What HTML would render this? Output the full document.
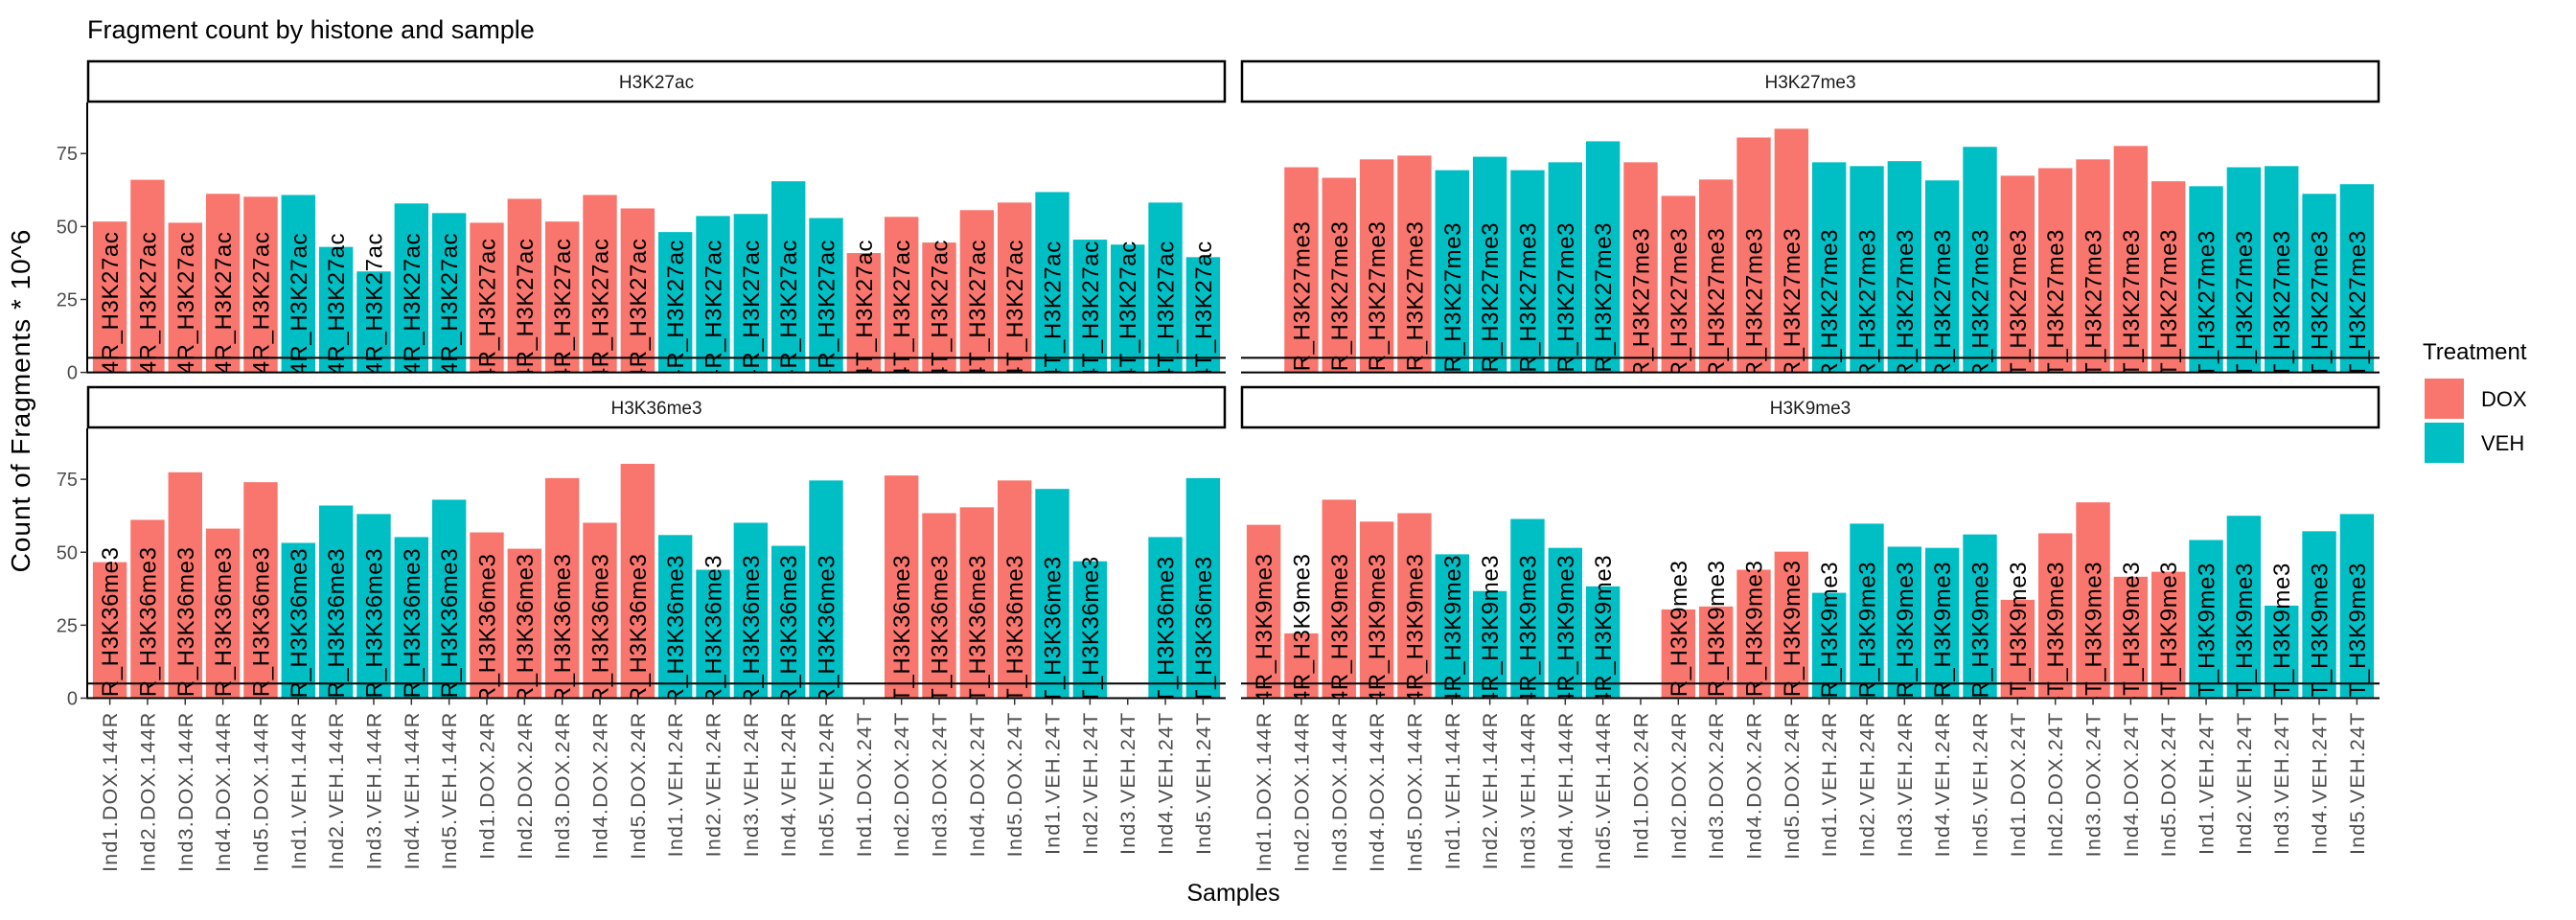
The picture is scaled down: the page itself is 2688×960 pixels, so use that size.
<!DOCTYPE html>
<html><head><meta charset="utf-8"><style>
body{margin:0;background:#fff;}
svg{display:block;font-family:"Liberation Sans",Arial,sans-serif;}
</style></head><body>
<svg id="chart" width="2688" height="960" viewBox="0 0 2688 960" xmlns="http://www.w3.org/2000/svg">
<text x="91" y="40" font-size="27" fill="#000">Fragment count by histone and sample</text>
<text transform="translate(31,418) rotate(-90)" text-anchor="middle" font-size="28" letter-spacing="1" fill="#000">Count of Fragments * 10^6</text>
<text x="1287" y="940" text-anchor="middle" font-size="25" fill="#000">Samples</text>
<g>
<text x="2528" y="375" font-size="24" fill="#000">Treatment</text>
<rect x="2530" y="395" width="41" height="42" fill="#F8766D"></rect>
<text x="2589" y="424" font-size="22" fill="#000">DOX</text>
<rect x="2530" y="441" width="41" height="42" fill="#00BFC4"></rect>
<text x="2589" y="470" font-size="22" fill="#000">VEH</text>
</g>
<g id="panels"></g>
</svg>
<script>
const categories = ["Ind1.DOX.144R","Ind2.DOX.144R","Ind3.DOX.144R","Ind4.DOX.144R","Ind5.DOX.144R","Ind1.VEH.144R","Ind2.VEH.144R","Ind3.VEH.144R","Ind4.VEH.144R","Ind5.VEH.144R","Ind1.DOX.24R","Ind2.DOX.24R","Ind3.DOX.24R","Ind4.DOX.24R","Ind5.DOX.24R","Ind1.VEH.24R","Ind2.VEH.24R","Ind3.VEH.24R","Ind4.VEH.24R","Ind5.VEH.24R","Ind1.DOX.24T","Ind2.DOX.24T","Ind3.DOX.24T","Ind4.DOX.24T","Ind5.DOX.24T","Ind1.VEH.24T","Ind2.VEH.24T","Ind3.VEH.24T","Ind4.VEH.24T","Ind5.VEH.24T"];
const histones = ["H3K27ac","H3K27me3","H3K36me3","H3K9me3"];
const valuesH3K27ac = [51.7,66.0,51.3,61.2,60.2,60.8,43.0,34.6,57.9,54.6,51.3,59.5,51.7,60.8,56.2,48.1,53.6,54.3,65.5,52.9,40.9,53.3,44.5,55.6,58.2,61.8,45.5,43.8,58.2,39.5];
const valuesH3K27me3 = [null,70.3,66.7,73.0,74.3,69.3,73.9,69.3,72.0,79.2,72.0,60.5,66.1,80.5,83.5,72.0,70.7,72.4,65.8,77.3,67.4,70.0,73.0,77.6,65.5,63.8,70.3,70.7,61.2,64.5];
const valuesH3K36me3 = [46.6,61.1,77.4,58.1,74.0,53.2,66.0,63.1,55.2,68.0,56.8,51.2,75.4,60.1,80.3,55.9,44.0,60.1,52.2,74.6,null,76.3,63.4,65.4,74.6,71.7,46.9,null,55.2,75.4];
const valuesH3K9me3 = [59.4,22.2,68.0,60.5,63.4,49.3,36.7,61.4,51.5,38.3,null,30.4,31.4,44.0,50.2,36.1,59.8,51.9,51.5,56.1,33.7,56.5,67.1,41.6,43.3,54.2,62.5,31.7,57.2,63.1];
const yTicks = [0,25,50,75];
const thresholdValue = 5;

const NS = "http://www.w3.org/2000/svg";
const seriesByHistone = [valuesH3K27ac, valuesH3K27me3, valuesH3K36me3, valuesH3K9me3];
const layout = [
  {x0:91, x1:1279, stripTop:63, top:107, bottom:388.6, left:true, bottomAxis:false},
  {x0:1295, x1:2483, stripTop:63, top:107, bottom:388.6, left:false, bottomAxis:false},
  {x0:91, x1:1279, stripTop:403, top:447, bottom:728.5, left:true, bottomAxis:true},
  {x0:1295, x1:2483, stripTop:403, top:447, bottom:728.5, left:false, bottomAxis:true}
];
const pxPerUnit = 3.045;
function mk(tag, attrs, parent){const e=document.createElementNS(NS,tag);for(const k in attrs)e.setAttribute(k,attrs[k]);parent.appendChild(e);return e;}
const root = document.getElementById('panels');
const defs = mk('defs',{},root);

layout.forEach((L, p) => {
  const g = mk('g',{},root);
  
  
  const step = (L.x1 - L.x0) / (categories.length - 1 + 1.2);
  const xScale = i => L.x0 + (0.6 + i) * step;
  const yScale = v => L.bottom - v * pxPerUnit;
  const cp = mk('clipPath',{id:'clip'+p},defs);
  mk('rect',{x:L.x0,y:L.top,width:L.x1-L.x0,height:L.bottom-L.top},cp);
  const strip = mk('rect',{x:L.x0+1,y:L.stripTop+1,width:L.x1-L.x0-2,height:L.top-L.stripTop-2,fill:'#fff',stroke:'#000','stroke-width':2.5},g);
  
  
  const st = mk('text',{x:(L.x0+L.x1)/2,y:(L.stripTop+L.top)/2+7,'text-anchor':'middle','font-size':19,fill:'#1a1a1a'},g);
  st.textContent = histones[p];
  
  
  const vals = seriesByHistone[p];
  const bw = step * 0.9;
  const barG = mk('g',{'clip-path':'url(#clip'+p+')'},g);
  vals.forEach((v, i) => {
    if (v === null) return;
    const cat = categories[i];
    const col = cat.indexOf('DOX') >= 0 ? '#F8766D' : '#00BFC4';
    const r = mk('rect',{x:xScale(i)-bw/2,y:yScale(v),width:bw,height:v*pxPerUnit,fill:col},barG);
    
    
  });
  vals.forEach((v, i) => {
    if (v === null) return;
    const t = mk('text',{transform:'translate('+(xScale(i)+8.5)+','+yScale(0)+') rotate(-90)','text-anchor':'middle','font-size':24,'letter-spacing':0.6,fill:'#000'},barG);
    t.textContent = categories[i] + '_' + histones[p];
    
    
  });
  const hl = mk('line',{x1:L.x0,x2:L.x1,y1:yScale(thresholdValue),y2:yScale(thresholdValue),stroke:'#000','stroke-width':2},g);
  
  
  const xa = mk('line',{x1:L.x0,x2:L.x1,y1:L.bottom,y2:L.bottom,stroke:'#000','stroke-width':2},g);
  
  
  if (L.left) {
    const ya = mk('line',{x1:L.x0,x2:L.x0,y1:L.top,y2:L.bottom+1,stroke:'#000','stroke-width':2},g);
    
    
    yTicks.forEach(tv => {
      const tk = mk('line',{x1:L.x0-7,x2:L.x0,y1:yScale(tv),y2:yScale(tv),stroke:'#333','stroke-width':1.5},g);
      
      
      const tl = mk('text',{x:L.x0-10,y:yScale(tv)+7,'text-anchor':'end','font-size':20,fill:'#4D4D4D'},g);
      tl.textContent = String(tv);
      
      
    });
  }
  if (L.bottomAxis) {
    categories.forEach((c, i) => {
      const tk = mk('line',{x1:xScale(i),x2:xScale(i),y1:L.bottom,y2:L.bottom+7,stroke:'#333','stroke-width':1.5},g);
      
      
      const tl = mk('text',{transform:'translate('+(xScale(i)+7.5)+','+(L.bottom+14)+') rotate(-90)','text-anchor':'end','font-size':21.5,'letter-spacing':1.2,fill:'#4D4D4D'},g);
      tl.textContent = c;
      
      
    });
  }
});
</script>
</body></html>
